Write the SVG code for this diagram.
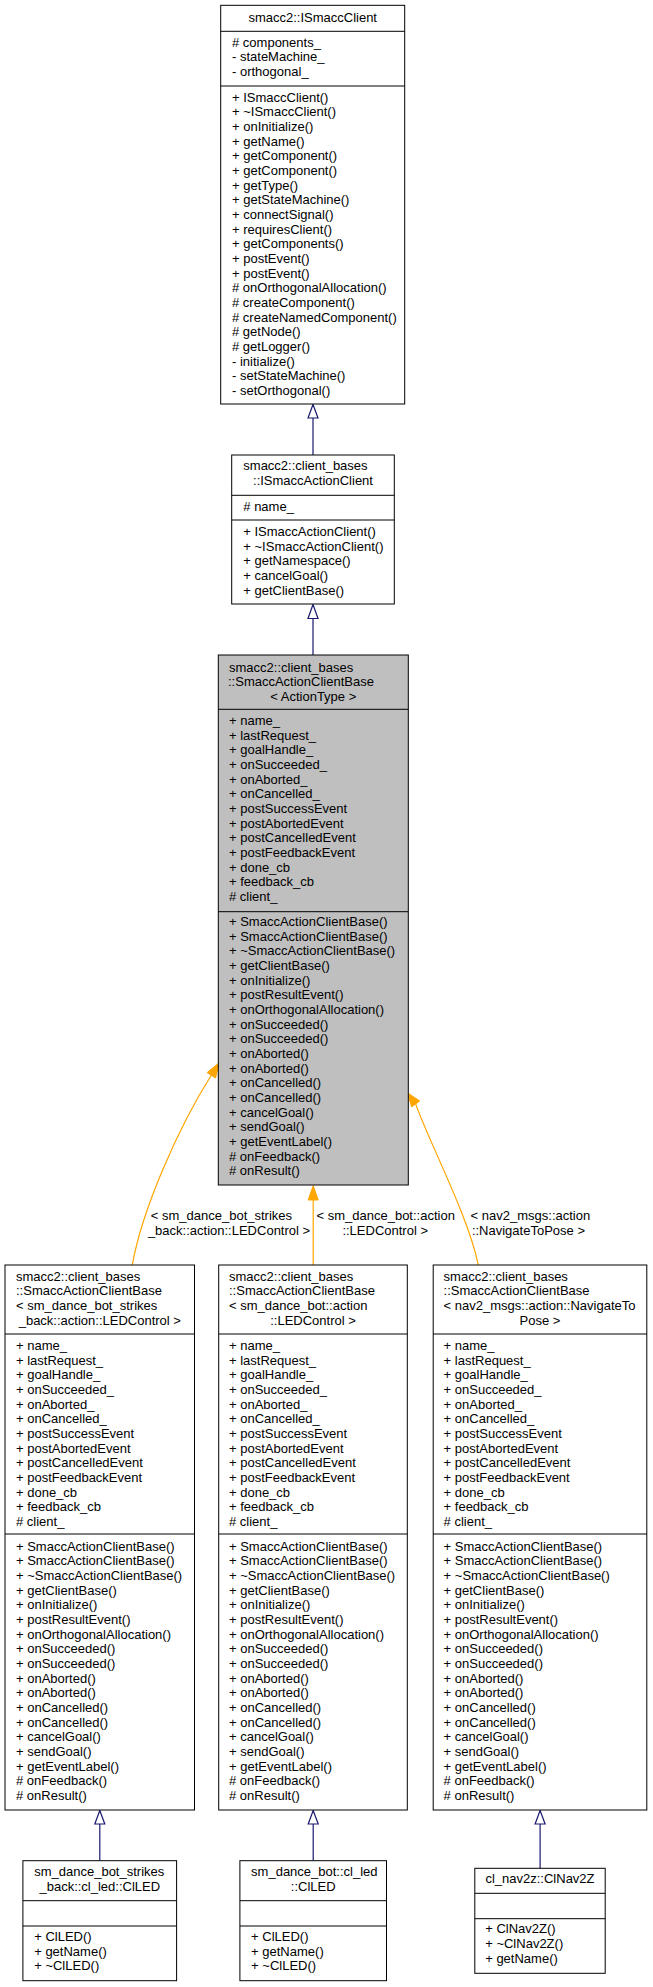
<svg xmlns="http://www.w3.org/2000/svg" width="653" height="1987" viewBox="0 0 653 1987">
<style>
.bg{fill:#ffffff}
.box{fill:#ffffff;stroke:#000000;stroke-width:1}
.base{fill:#bfbfbf;stroke:#000000;stroke-width:1}
.div{stroke:#000000;stroke-width:1;fill:none}
.t{font-family:"Liberation Sans",Arial,Helvetica,sans-serif;font-size:13px;fill:#000000}
.m{text-anchor:middle}
.inh{stroke:#191970;stroke-width:1.2;fill:none}
.inhHead{stroke:#191970;stroke-width:1.2;fill:#ffffff}
.tpl{stroke:#ffa500;stroke-width:1.2;fill:none}
.tplHead{stroke:#ffa500;stroke-width:1;fill:#ffa500}
</style>
<rect class="bg" x="0" y="0" width="653" height="1987"/>

<g id="connectors">
  <line class="inh" x1="313" y1="418" x2="313" y2="455"/>
  <polygon class="inhHead" points="313,404.5 308,418 318,418"/>
  <line class="inh" x1="313" y1="618.5" x2="313" y2="655"/>
  <polygon class="inhHead" points="313,604.5 308,618.5 318,618.5"/>
  <path class="tpl" d="M132.3,1265 C142,1210 178,1128 211.3,1075.3"/>
  <polygon class="tplHead" points="219.3,1062.7 207.1,1072.6 215.5,1078"/>
  <line class="tpl" x1="313.2" y1="1200" x2="313.2" y2="1265"/>
  <polygon class="tplHead" points="313.2,1185.7 308.2,1200 318.2,1200"/>
  <path class="tpl" d="M478.3,1265 C468,1215 428,1140 415.7,1103.9"/>
  <polygon class="tplHead" points="407.3,1092.7 419.7,1100.9 411.7,1106.9"/>
  <g class="t">
    <text x="150.8" y="1220">&lt; sm_dance_bot_strikes</text>
    <text x="147.9" y="1234.7">_back::action::LEDControl &gt;</text>
    <text x="316.5" y="1220">&lt; sm_dance_bot::action</text>
    <text x="342.4" y="1234.7">::LEDControl &gt;</text>
    <text x="470.6" y="1220">&lt; nav2_msgs::action</text>
    <text x="471.9" y="1234.7">::NavigateToPose &gt;</text>
  </g>
  <line class="inh" x1="99.8" y1="1824" x2="99.8" y2="1860.7"/>
  <polygon class="inhHead" points="99.8,1810.5 94.8,1824 104.8,1824"/>
  <line class="inh" x1="313.2" y1="1824" x2="313.2" y2="1860.7"/>
  <polygon class="inhHead" points="313.2,1810.5 308.2,1824 318.2,1824"/>
  <line class="inh" x1="540.1" y1="1824" x2="540.1" y2="1868.3"/>
  <polygon class="inhHead" points="540.1,1810.5 535.1,1824 545.1,1824"/>
</g>

<g id="ISmaccClient">
  <rect class="box" x="220.7" y="5.3" width="184" height="398.7"/>
  <line class="div" x1="220.7" y1="31.3" x2="404.7" y2="31.3"/>
  <line class="div" x1="220.7" y1="86" x2="404.7" y2="86"/>
  <text class="t m" x="312.7" y="21.7">smacc2::ISmaccClient</text>
  <text class="t" x="232" y="46.7"><tspan x="232"># components_</tspan><tspan x="232" dy="14.67">- stateMachine_</tspan><tspan x="232" dy="14.67">- orthogonal_</tspan></text>
  <text class="t" x="232" y="101.7"><tspan x="232">+ ISmaccClient()</tspan><tspan x="232" dy="14.67">+ ~ISmaccClient()</tspan><tspan x="232" dy="14.67">+ onInitialize()</tspan><tspan x="232" dy="14.67">+ getName()</tspan><tspan x="232" dy="14.67">+ getComponent()</tspan><tspan x="232" dy="14.67">+ getComponent()</tspan><tspan x="232" dy="14.67">+ getType()</tspan><tspan x="232" dy="14.67">+ getStateMachine()</tspan><tspan x="232" dy="14.67">+ connectSignal()</tspan><tspan x="232" dy="14.67">+ requiresClient()</tspan><tspan x="232" dy="14.67">+ getComponents()</tspan><tspan x="232" dy="14.67">+ postEvent()</tspan><tspan x="232" dy="14.67">+ postEvent()</tspan><tspan x="232" dy="14.67"># onOrthogonalAllocation()</tspan><tspan x="232" dy="14.67"># createComponent()</tspan><tspan x="232" dy="14.67"># createNamedComponent()</tspan><tspan x="232" dy="14.67"># getNode()</tspan><tspan x="232" dy="14.67"># getLogger()</tspan><tspan x="232" dy="14.67">- initialize()</tspan><tspan x="232" dy="14.67">- setStateMachine()</tspan><tspan x="232" dy="14.67">- setOrthogonal()</tspan></text>
</g>

<g id="ISmaccActionClient">
  <rect class="box" x="231.7" y="455" width="162.6" height="149"/>
  <line class="div" x1="231.7" y1="495.3" x2="394.3" y2="495.3"/>
  <line class="div" x1="231.7" y1="520" x2="394.3" y2="520"/>
  <text class="t" x="243.3" y="470">smacc2::client_bases</text>
  <text class="t m" x="313" y="484.7">::ISmaccActionClient</text>
  <text class="t" x="243.3" y="510.7"># name_</text>
  <text class="t" x="243.3" y="536"><tspan x="243.3">+ ISmaccActionClient()</tspan><tspan x="243.3" dy="14.67">+ ~ISmaccActionClient()</tspan><tspan x="243.3" dy="14.67">+ getNamespace()</tspan><tspan x="243.3" dy="14.67">+ cancelGoal()</tspan><tspan x="243.3" dy="14.67">+ getClientBase()</tspan></text>
</g>

<g id="SmaccActionClientBase">
  <rect class="base" x="218.3" y="655" width="190" height="530"/>
  <line class="div" x1="218.3" y1="709.3" x2="408.3" y2="709.3"/>
  <line class="div" x1="218.3" y1="911.7" x2="408.3" y2="911.7"/>
  <text class="t" x="229" y="671.7">smacc2::client_bases</text>
  <text class="t" x="228" y="686.4">::SmaccActionClientBase</text>
  <text class="t m" x="313.3" y="701">&lt; ActionType &gt;</text>
  <text class="t" x="229" y="725"><tspan x="229">+ name_</tspan><tspan x="229" dy="14.67">+ lastRequest_</tspan><tspan x="229" dy="14.67">+ goalHandle_</tspan><tspan x="229" dy="14.67">+ onSucceeded_</tspan><tspan x="229" dy="14.67">+ onAborted_</tspan><tspan x="229" dy="14.67">+ onCancelled_</tspan><tspan x="229" dy="14.67">+ postSuccessEvent</tspan><tspan x="229" dy="14.67">+ postAbortedEvent</tspan><tspan x="229" dy="14.67">+ postCancelledEvent</tspan><tspan x="229" dy="14.67">+ postFeedbackEvent</tspan><tspan x="229" dy="14.67">+ done_cb</tspan><tspan x="229" dy="14.67">+ feedback_cb</tspan><tspan x="229" dy="14.67"># client_</tspan></text>
  <text class="t" x="229" y="926"><tspan x="229">+ SmaccActionClientBase()</tspan><tspan x="229" dy="14.67">+ SmaccActionClientBase()</tspan><tspan x="229" dy="14.67">+ ~SmaccActionClientBase()</tspan><tspan x="229" dy="14.67">+ getClientBase()</tspan><tspan x="229" dy="14.67">+ onInitialize()</tspan><tspan x="229" dy="14.67">+ postResultEvent()</tspan><tspan x="229" dy="14.67">+ onOrthogonalAllocation()</tspan><tspan x="229" dy="14.67">+ onSucceeded()</tspan><tspan x="229" dy="14.67">+ onSucceeded()</tspan><tspan x="229" dy="14.67">+ onAborted()</tspan><tspan x="229" dy="14.67">+ onAborted()</tspan><tspan x="229" dy="14.67">+ onCancelled()</tspan><tspan x="229" dy="14.67">+ onCancelled()</tspan><tspan x="229" dy="14.67">+ cancelGoal()</tspan><tspan x="229" dy="14.67">+ sendGoal()</tspan><tspan x="229" dy="14.67">+ getEventLabel()</tspan><tspan x="229" dy="14.67"># onFeedback()</tspan><tspan x="229" dy="14.67"># onResult()</tspan></text>
</g>

<g id="SmaccActionClientBase_strikes">
  <rect class="box" x="5" y="1265" width="189.5" height="545"/>
  <line class="div" x1="5" y1="1334" x2="194.5" y2="1334"/>
  <line class="div" x1="5" y1="1534" x2="194.5" y2="1534"/>
  <text class="t" x="16" y="1280.7"><tspan x="16">smacc2::client_bases</tspan><tspan x="16" dy="14.67">::SmaccActionClientBase</tspan><tspan x="16" dy="14.67">&lt; sm_dance_bot_strikes</tspan></text>
  <text class="t m" x="99.8" y="1324.7">_back::action::LEDControl &gt;</text>
  <text class="t" x="16" y="1350"><tspan x="16">+ name_</tspan><tspan x="16" dy="14.67">+ lastRequest_</tspan><tspan x="16" dy="14.67">+ goalHandle_</tspan><tspan x="16" dy="14.67">+ onSucceeded_</tspan><tspan x="16" dy="14.67">+ onAborted_</tspan><tspan x="16" dy="14.67">+ onCancelled_</tspan><tspan x="16" dy="14.67">+ postSuccessEvent</tspan><tspan x="16" dy="14.67">+ postAbortedEvent</tspan><tspan x="16" dy="14.67">+ postCancelledEvent</tspan><tspan x="16" dy="14.67">+ postFeedbackEvent</tspan><tspan x="16" dy="14.67">+ done_cb</tspan><tspan x="16" dy="14.67">+ feedback_cb</tspan><tspan x="16" dy="14.67"># client_</tspan></text>
  <text class="t" x="16" y="1550.7"><tspan x="16">+ SmaccActionClientBase()</tspan><tspan x="16" dy="14.67">+ SmaccActionClientBase()</tspan><tspan x="16" dy="14.67">+ ~SmaccActionClientBase()</tspan><tspan x="16" dy="14.67">+ getClientBase()</tspan><tspan x="16" dy="14.67">+ onInitialize()</tspan><tspan x="16" dy="14.67">+ postResultEvent()</tspan><tspan x="16" dy="14.67">+ onOrthogonalAllocation()</tspan><tspan x="16" dy="14.67">+ onSucceeded()</tspan><tspan x="16" dy="14.67">+ onSucceeded()</tspan><tspan x="16" dy="14.67">+ onAborted()</tspan><tspan x="16" dy="14.67">+ onAborted()</tspan><tspan x="16" dy="14.67">+ onCancelled()</tspan><tspan x="16" dy="14.67">+ onCancelled()</tspan><tspan x="16" dy="14.67">+ cancelGoal()</tspan><tspan x="16" dy="14.67">+ sendGoal()</tspan><tspan x="16" dy="14.67">+ getEventLabel()</tspan><tspan x="16" dy="14.67"># onFeedback()</tspan><tspan x="16" dy="14.67"># onResult()</tspan></text>
</g>

<g id="SmaccActionClientBase_dance">
  <rect class="box" x="218.7" y="1265" width="188.6" height="545"/>
  <line class="div" x1="218.7" y1="1334" x2="407.3" y2="1334"/>
  <line class="div" x1="218.7" y1="1534" x2="407.3" y2="1534"/>
  <text class="t" x="229" y="1280.7"><tspan x="229">smacc2::client_bases</tspan><tspan x="229" dy="14.67">::SmaccActionClientBase</tspan><tspan x="229" dy="14.67">&lt; sm_dance_bot::action</tspan></text>
  <text class="t m" x="313" y="1324.7">::LEDControl &gt;</text>
  <text class="t" x="229" y="1350"><tspan x="229">+ name_</tspan><tspan x="229" dy="14.67">+ lastRequest_</tspan><tspan x="229" dy="14.67">+ goalHandle_</tspan><tspan x="229" dy="14.67">+ onSucceeded_</tspan><tspan x="229" dy="14.67">+ onAborted_</tspan><tspan x="229" dy="14.67">+ onCancelled_</tspan><tspan x="229" dy="14.67">+ postSuccessEvent</tspan><tspan x="229" dy="14.67">+ postAbortedEvent</tspan><tspan x="229" dy="14.67">+ postCancelledEvent</tspan><tspan x="229" dy="14.67">+ postFeedbackEvent</tspan><tspan x="229" dy="14.67">+ done_cb</tspan><tspan x="229" dy="14.67">+ feedback_cb</tspan><tspan x="229" dy="14.67"># client_</tspan></text>
  <text class="t" x="229" y="1550.7"><tspan x="229">+ SmaccActionClientBase()</tspan><tspan x="229" dy="14.67">+ SmaccActionClientBase()</tspan><tspan x="229" dy="14.67">+ ~SmaccActionClientBase()</tspan><tspan x="229" dy="14.67">+ getClientBase()</tspan><tspan x="229" dy="14.67">+ onInitialize()</tspan><tspan x="229" dy="14.67">+ postResultEvent()</tspan><tspan x="229" dy="14.67">+ onOrthogonalAllocation()</tspan><tspan x="229" dy="14.67">+ onSucceeded()</tspan><tspan x="229" dy="14.67">+ onSucceeded()</tspan><tspan x="229" dy="14.67">+ onAborted()</tspan><tspan x="229" dy="14.67">+ onAborted()</tspan><tspan x="229" dy="14.67">+ onCancelled()</tspan><tspan x="229" dy="14.67">+ onCancelled()</tspan><tspan x="229" dy="14.67">+ cancelGoal()</tspan><tspan x="229" dy="14.67">+ sendGoal()</tspan><tspan x="229" dy="14.67">+ getEventLabel()</tspan><tspan x="229" dy="14.67"># onFeedback()</tspan><tspan x="229" dy="14.67"># onResult()</tspan></text>
</g>

<g id="SmaccActionClientBase_nav2">
  <rect class="box" x="433.2" y="1265" width="213.6" height="545"/>
  <line class="div" x1="433.2" y1="1334" x2="646.8" y2="1334"/>
  <line class="div" x1="433.2" y1="1534" x2="646.8" y2="1534"/>
  <text class="t" x="443.6" y="1280.7"><tspan x="443.6">smacc2::client_bases</tspan><tspan x="443.6" dy="14.67">::SmaccActionClientBase</tspan><tspan x="443.6" dy="14.67">&lt; nav2_msgs::action::NavigateTo</tspan></text>
  <text class="t m" x="540" y="1324.7">Pose &gt;</text>
  <text class="t" x="443.6" y="1350"><tspan x="443.6">+ name_</tspan><tspan x="443.6" dy="14.67">+ lastRequest_</tspan><tspan x="443.6" dy="14.67">+ goalHandle_</tspan><tspan x="443.6" dy="14.67">+ onSucceeded_</tspan><tspan x="443.6" dy="14.67">+ onAborted_</tspan><tspan x="443.6" dy="14.67">+ onCancelled_</tspan><tspan x="443.6" dy="14.67">+ postSuccessEvent</tspan><tspan x="443.6" dy="14.67">+ postAbortedEvent</tspan><tspan x="443.6" dy="14.67">+ postCancelledEvent</tspan><tspan x="443.6" dy="14.67">+ postFeedbackEvent</tspan><tspan x="443.6" dy="14.67">+ done_cb</tspan><tspan x="443.6" dy="14.67">+ feedback_cb</tspan><tspan x="443.6" dy="14.67"># client_</tspan></text>
  <text class="t" x="443.6" y="1550.7"><tspan x="443.6">+ SmaccActionClientBase()</tspan><tspan x="443.6" dy="14.67">+ SmaccActionClientBase()</tspan><tspan x="443.6" dy="14.67">+ ~SmaccActionClientBase()</tspan><tspan x="443.6" dy="14.67">+ getClientBase()</tspan><tspan x="443.6" dy="14.67">+ onInitialize()</tspan><tspan x="443.6" dy="14.67">+ postResultEvent()</tspan><tspan x="443.6" dy="14.67">+ onOrthogonalAllocation()</tspan><tspan x="443.6" dy="14.67">+ onSucceeded()</tspan><tspan x="443.6" dy="14.67">+ onSucceeded()</tspan><tspan x="443.6" dy="14.67">+ onAborted()</tspan><tspan x="443.6" dy="14.67">+ onAborted()</tspan><tspan x="443.6" dy="14.67">+ onCancelled()</tspan><tspan x="443.6" dy="14.67">+ onCancelled()</tspan><tspan x="443.6" dy="14.67">+ cancelGoal()</tspan><tspan x="443.6" dy="14.67">+ sendGoal()</tspan><tspan x="443.6" dy="14.67">+ getEventLabel()</tspan><tspan x="443.6" dy="14.67"># onFeedback()</tspan><tspan x="443.6" dy="14.67"># onResult()</tspan></text>
</g>

<g id="ClLED_strikes">
  <rect class="box" x="22.9" y="1860.7" width="153.7" height="120"/>
  <line class="div" x1="22.9" y1="1900.7" x2="176.6" y2="1900.7"/>
  <line class="div" x1="22.9" y1="1926" x2="176.6" y2="1926"/>
  <text class="t" x="34.2" y="1876">sm_dance_bot_strikes</text>
  <text class="t m" x="99.8" y="1890.7">_back::cl_led::ClLED</text>
  <text class="t" x="34.2" y="1941"><tspan x="34.2">+ ClLED()</tspan><tspan x="34.2" dy="14.67">+ getName()</tspan><tspan x="34.2" dy="14.67">+ ~ClLED()</tspan></text>
</g>

<g id="ClLED_dance">
  <rect class="box" x="239.9" y="1860.7" width="146.6" height="120"/>
  <line class="div" x1="239.9" y1="1900.7" x2="386.5" y2="1900.7"/>
  <line class="div" x1="239.9" y1="1926" x2="386.5" y2="1926"/>
  <text class="t" x="251.1" y="1876">sm_dance_bot::cl_led</text>
  <text class="t m" x="313.2" y="1890.7">::ClLED</text>
  <text class="t" x="251.1" y="1941"><tspan x="251.1">+ ClLED()</tspan><tspan x="251.1" dy="14.67">+ getName()</tspan><tspan x="251.1" dy="14.67">+ ~ClLED()</tspan></text>
</g>

<g id="ClNav2Z">
  <rect class="box" x="474.8" y="1868.3" width="130.4" height="105"/>
  <line class="div" x1="474.8" y1="1893.3" x2="605.2" y2="1893.3"/>
  <line class="div" x1="474.8" y1="1918.7" x2="605.2" y2="1918.7"/>
  <text class="t m" x="540" y="1883.3">cl_nav2z::ClNav2Z</text>
  <text class="t" x="485.2" y="1933.3"><tspan x="485.2">+ ClNav2Z()</tspan><tspan x="485.2" dy="14.67">+ ~ClNav2Z()</tspan><tspan x="485.2" dy="14.67">+ getName()</tspan></text>
</g>
</svg>
